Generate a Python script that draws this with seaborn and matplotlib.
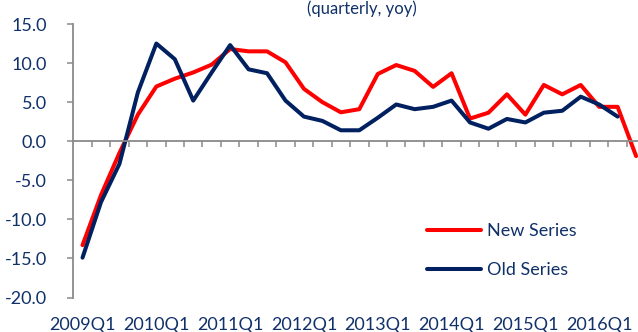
import numpy as np
import pandas as pd
import matplotlib
matplotlib.use("Agg")
import matplotlib.pyplot as plt
import seaborn as sns

# Quarterly year-on-year growth, 2009Q1 .. 2016Q3
quarters = [f"{y}Q{q}" for y in range(2009, 2017) for q in range(1, 5)][:31]
new_series = [-13.3, -6.9, -1.5, 3.4, 7.0, 8.0, 8.8, 9.8, 11.8, 11.5, 11.5, 10.1,
              6.7, 5.0, 3.7, 4.1, 8.6, 9.75, 9.0, 6.95, 8.7, 2.9, 3.65, 6.0,
              3.4, 7.2, 6.0, 7.2, 4.4, 4.4, -1.9]
old_series = [-14.9, -7.8, -2.9, 6.25, 12.5, 10.5, 5.2, 8.8, 12.3, 9.2, 8.7, 5.2,
              3.15, 2.6, 1.4, 1.4, 3.0, 4.7, 4.1, 4.4, 5.2, 2.4, 1.6, 2.85,
              2.4, 3.65, 3.9, 5.7, 4.7, 3.15]
series_names = ["New Series", "Old Series"]
tick_labels = quarters[::4]

NAVY = "#10306a"
RED = "#ff0000"
DARK = "#002060"
GREY = "#8a8a8a"

sns.set_style("white")
plt.rcParams["font.family"] = ["Lato", "DejaVu Sans"]

df = pd.concat([
    pd.DataFrame({"idx": range(len(new_series)), "value": new_series, "series": series_names[0]}),
    pd.DataFrame({"idx": range(len(old_series)), "value": old_series, "series": series_names[1]}),
])

fig = plt.figure(figsize=(6.38, 3.32), dpi=100)
ax = fig.add_axes([73.3 / 638, 0.1039, 572 / 638, 0.8238])

sns.lineplot(data=df, x="idx", y="value", hue="series", hue_order=series_names,
             palette={series_names[0]: RED, series_names[1]: DARK},
             linewidth=2.9, ax=ax, legend=False, sort=False)

ax.set_xlim(-0.5, len(quarters) - 0.5)
ax.set_ylim(-20, 15)
ax.set_xlabel("")
ax.set_ylabel("")

# y axis
ax.set_yticks(np.arange(-20, 15.1, 5))
ax.set_yticklabels([f"{v:.1f}" for v in np.arange(-20, 15.1, 5)])
ax.tick_params(axis="y", direction="out", length=4, width=1.1, color=GREY,
               labelsize=13, labelcolor=NAVY, pad=15, left=True)
for s in ["top", "right"]:
    ax.spines[s].set_visible(False)
ax.spines["left"].set_color(GREY)
ax.spines["left"].set_linewidth(1.3)

# category axis crossing at zero, ticks between categories
ax.spines["bottom"].set_position(("data", 0))
ax.spines["bottom"].set_color(GREY)
ax.spines["bottom"].set_linewidth(1.3)
ax.set_xticks(np.arange(0.5, len(quarters), 1.0))
ax.tick_params(axis="x", direction="out", length=4.5, width=1.1, color=GREY,
               labelbottom=False, bottom=True)

# category labels along the bottom of the plot area
sec = ax.secondary_xaxis(0)
sec.set_xticks(range(0, len(quarters), 4))
sec.set_xticklabels(tick_labels)
sec.tick_params(length=0, pad=14, labelsize=13, labelcolor=NAVY)
sec.spines["bottom"].set_visible(False)

handles = [plt.Line2D([], [], color=RED, lw=2.9),
           plt.Line2D([], [], color=DARK, lw=2.9)]
leg = fig.legend(handles, series_names, loc="upper left",
                 bbox_to_anchor=(427 / 638, 0.327), frameon=False,
                 fontsize=13, handlelength=3.0, handletextpad=0.35,
                 labelspacing=1.27, borderpad=0, borderaxespad=0)
for t in leg.get_texts():
    t.set_color(NAVY)

fig.text(362 / 638, 1 - 14 / 332, "(quarterly, yoy)", ha="center", va="baseline",
         fontsize=12, color=NAVY)

fig.savefig("out.png", dpi=100)
